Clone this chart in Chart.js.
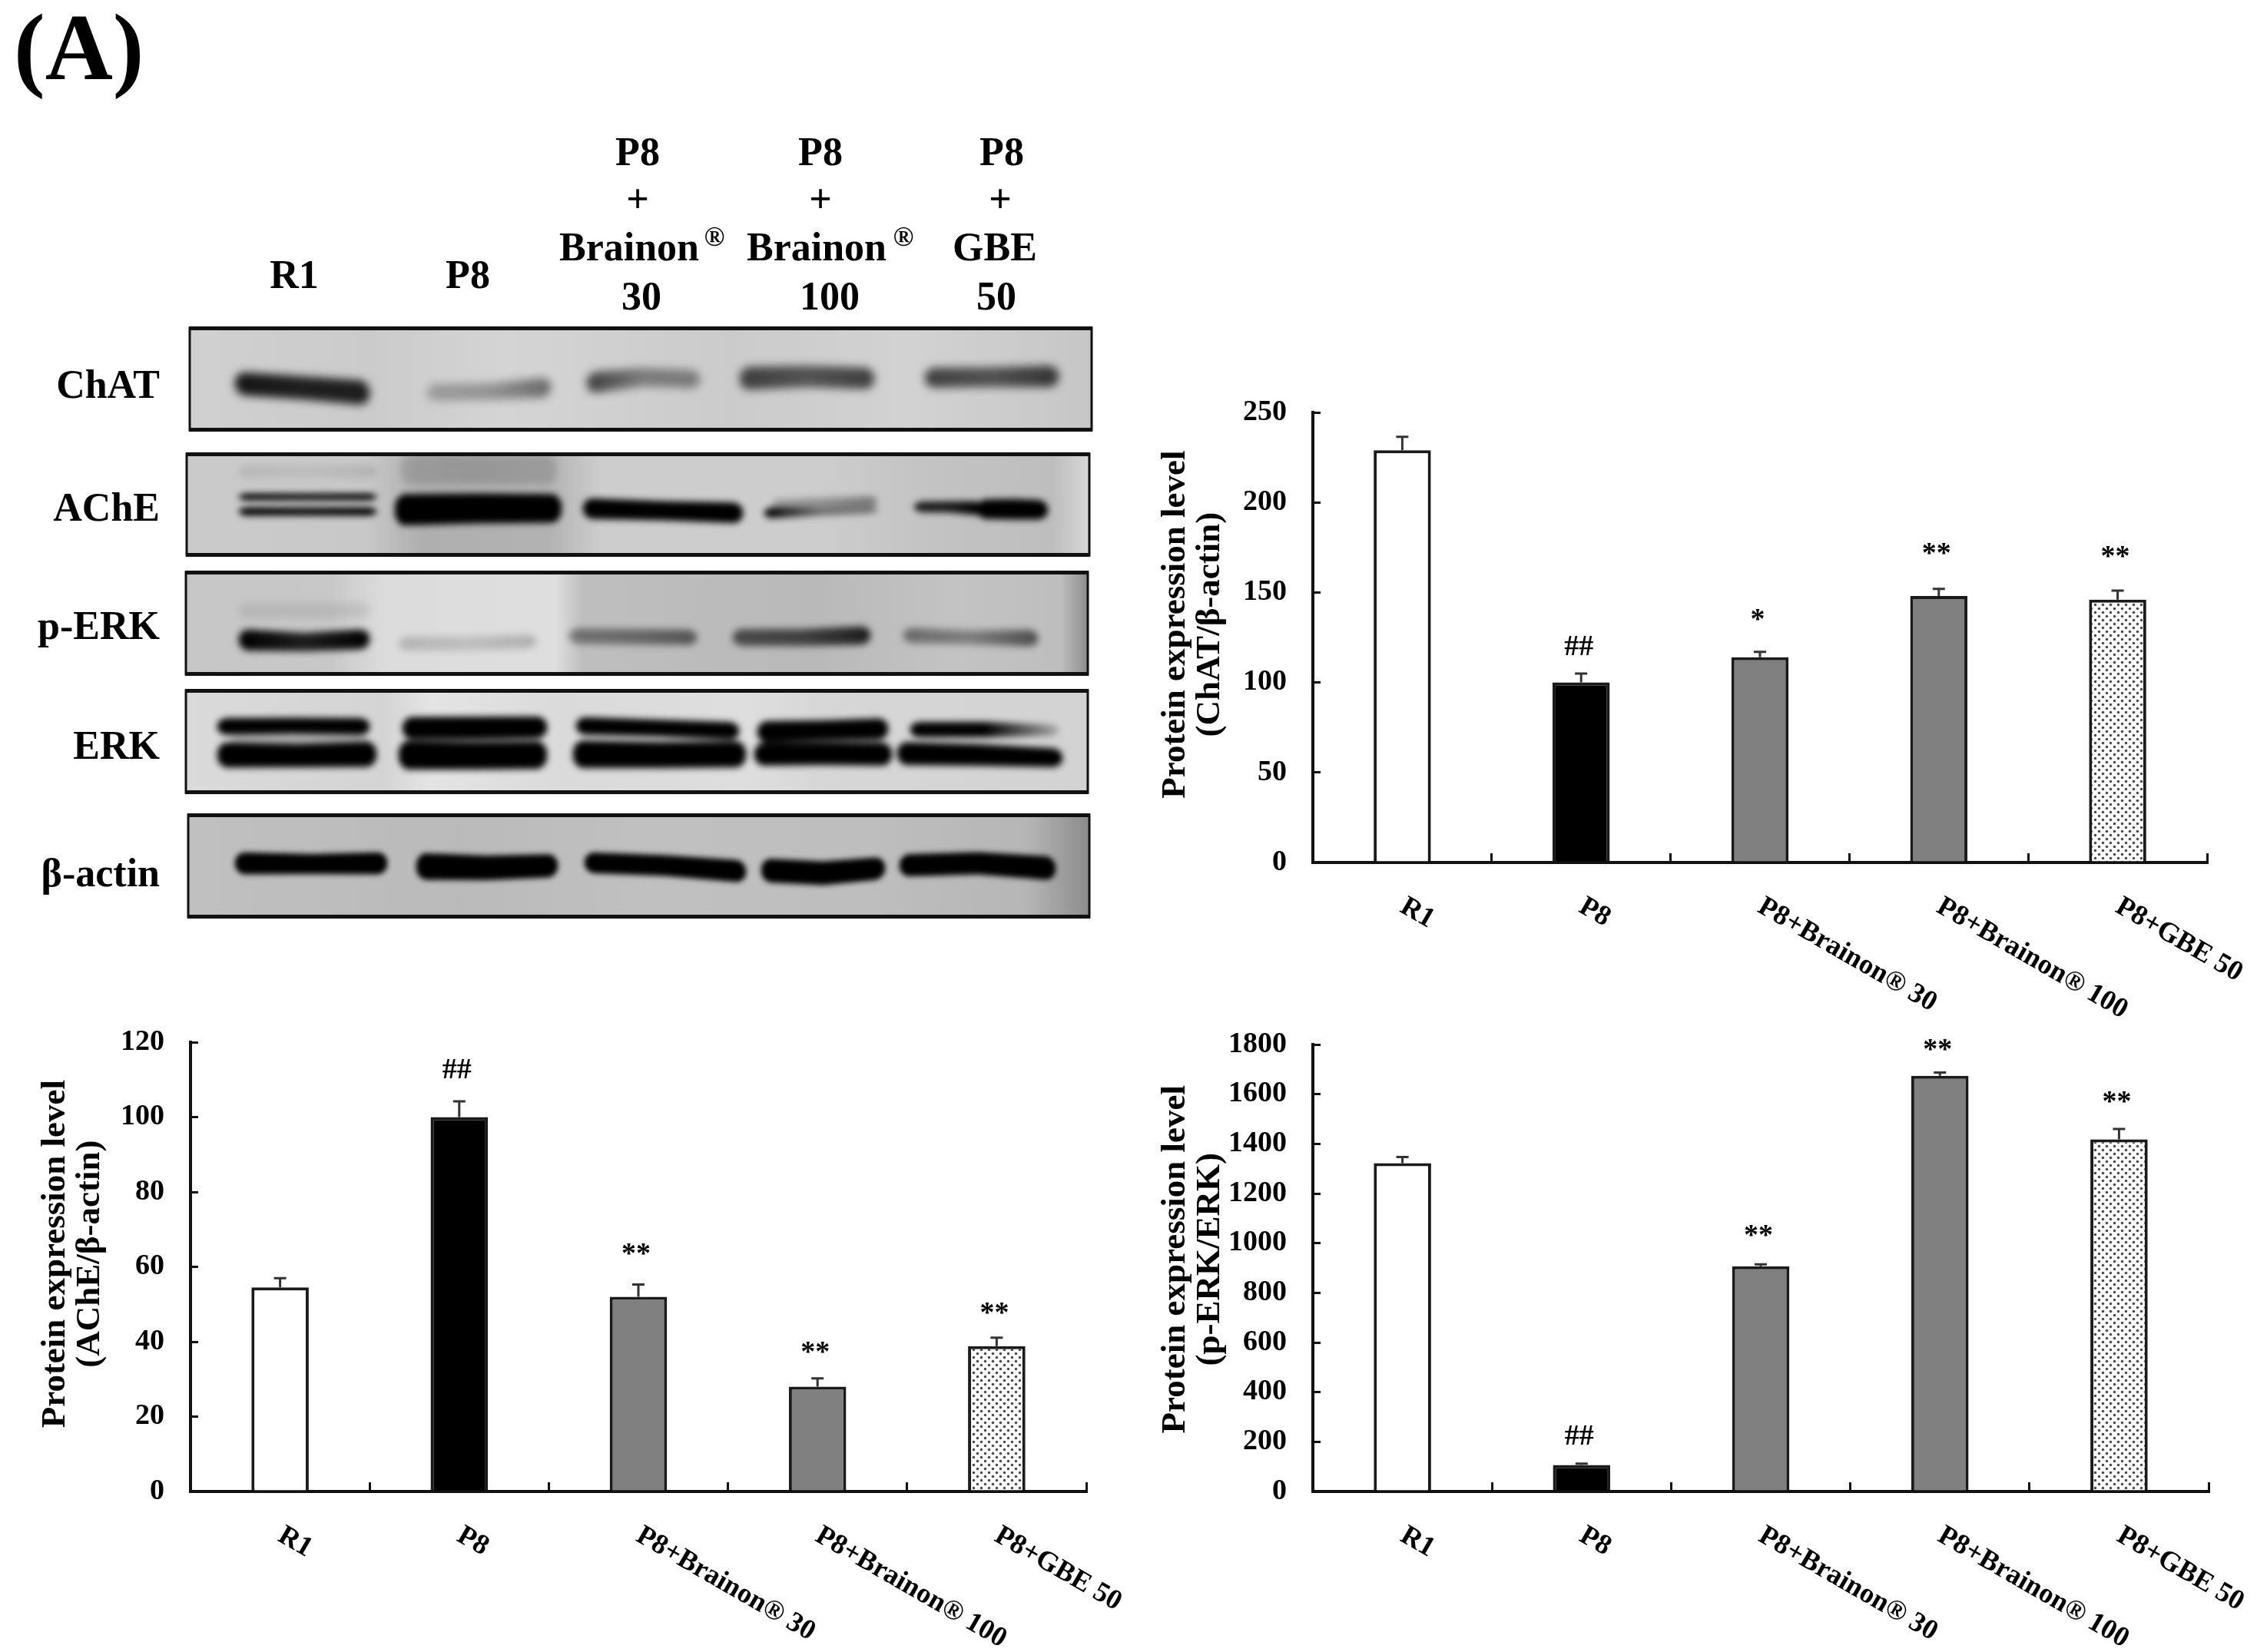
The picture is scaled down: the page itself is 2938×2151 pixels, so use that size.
<!DOCTYPE html>
<html>
<head>
<meta charset="utf-8">
<script src="https://cdn.jsdelivr.net/npm/chart.js@4"></script>
<style>
  html, body { margin: 0; background: #fff; }
  body { position: relative; width: 2938px; height: 2151px; overflow: hidden; }
  canvas { position: absolute; }
</style>
</head>
<body>
<canvas id="blots" width="1500" height="1320" style="left:0;top:0"></canvas>
<canvas id="chatChart" width="1438" height="880" style="left:1500px;top:480px"></canvas>
<canvas id="acheChart" width="1490" height="831" style="left:0;top:1320px"></canvas>
<canvas id="erkChart" width="1438" height="831" style="left:1500px;top:1320px"></canvas>
<script>
const groups = ['R1', 'P8', 'P8+Brainon® 30', 'P8+Brainon® 100', 'P8+GBE 50'];

const chatValues = [229, 100, 114, 148, 146];
const chatErrors = [7.5, 5, 3, 4, 5];
const chatMarks = ['', '##', '*', '**', '**'];
const chatMarkLevels = [null, 120.7, 137.5, 174.3, 172.5];
const chatTicks = [0, 50, 100, 150, 200, 250];

const acheValues = [54.5, 100, 52, 28, 38.8];
const acheErrors = [2.5, 4.2, 3.3, 2.2, 2.3];
const acheMarks = ['', '##', '**', '**', '**'];
const acheMarkLevels = [null, 113, 64.7, 38.4, 49];
const acheTicks = [0, 20, 40, 60, 80, 100, 120];

const erkValues = [1322, 107, 907, 1674, 1418];
const erkErrors = [25, 5, 8, 13, 42];
const erkMarks = ['', '##', '**', '**', '**'];
const erkMarkLevels = [null, 226, 1050, 1798, 1588];
const erkTicks = [0, 200, 400, 600, 800, 1000, 1200, 1400, 1600, 1800];

const SERIF = '"Liberation Serif", "Times New Roman", serif';

// stipple used for the GBE bar
function stipple() {
  const tile = document.createElement('canvas');
  tile.width = 10;
  tile.height = 10;
  const c = tile.getContext('2d');
  c.fillStyle = '#fff';
  c.fillRect(0, 0, 10, 10);
  c.fillStyle = '#444';
  [[2.5, 2.5], [7.5, 7.5]].forEach(([x, y]) => {
    c.beginPath();
    c.arc(x, y, 1.7, 0, Math.PI * 2);
    c.fill();
  });
  return c.createPattern(tile, 'repeat');
}

const barFills = ['#ffffff', '#000000', '#808080', '#808080', stipple()];

// whiskers and significance marks, placed through the chart's own scales
const extrasPlugin = {
  id: 'extras',
  afterDatasetsDraw(chart, args, opts) {
    const { ctx, scales } = chart;
    const bars = chart.getDatasetMeta(0).data;
    ctx.save();
    bars.forEach((bar, i) => {
      const top = scales.y.getPixelForValue(opts.values[i] + opts.errors[i]);
      ctx.strokeStyle = '#333';
      ctx.lineWidth = 3;
      ctx.beginPath();
      ctx.moveTo(bar.x, bar.y);
      ctx.lineTo(bar.x, top);
      ctx.moveTo(bar.x - 8, top);
      ctx.lineTo(bar.x + 8, top);
      ctx.stroke();

      if (!opts.marks[i]) return;
      const y = scales.y.getPixelForValue(opts.levels[i]);
      ctx.fillStyle = '#000';
      ctx.font = 'bold 38px ' + SERIF;
      ctx.textAlign = 'center';
      ctx.textBaseline = 'alphabetic';
      const m = ctx.measureText(opts.marks[i]);
      ctx.fillText(opts.marks[i], bar.x - 3, y + (m.actualBoundingBoxAscent - m.actualBoundingBoxDescent) / 2);
    });
    ctx.restore();
  }
};

function makeChart(id, cfg) {
  return new Chart(document.getElementById(id), {
    type: 'bar',
    data: {
      labels: groups,
      datasets: [{
        data: cfg.values,
        backgroundColor: barFills,
        borderColor: '#1a1a1a',
        borderWidth: 4,
        barPercentage: 1,
        categoryPercentage: 0.32
      }]
    },
    plugins: [extrasPlugin],
    options: {
      responsive: false,
      animation: false,
      events: [],
      layout: { padding: { top: cfg.padTop, right: cfg.padRight, left: 0, bottom: 0 } },
      plugins: {
        legend: { display: false },
        tooltip: { enabled: false },
        extras: { values: cfg.values, errors: cfg.errors, marks: cfg.marks, levels: cfg.levels }
      },
      scales: {
        x: {
          grid: { drawOnChartArea: false, tickLength: -12, color: '#111', lineWidth: 3 },
          border: { color: '#111', width: 4 },
          ticks: {
            color: '#000',
            font: { family: SERIF, size: 36.5, weight: 'bold' },
            minRotation: -30,
            maxRotation: -30,
            autoSkip: false,
            padding: 48
          },
          // labels hang from their start, going down to the right
          beforeUpdate(scale) { scale._getXAxisLabelAlignment = () => 'left'; },
          afterFit(scale) {
            scale.height = cfg.xHeight;
            scale.paddingLeft = scale.paddingRight = scale.paddingTop = scale.paddingBottom = 0;
          }
        },
        y: {
          min: cfg.ticks[0],
          max: cfg.ticks[cfg.ticks.length - 1],
          afterBuildTicks(scale) { scale.ticks = cfg.ticks.map(v => ({ value: v })); },
          grid: { drawOnChartArea: false, tickLength: -10, color: '#111', lineWidth: 3 },
          border: { color: '#111', width: 4 },
          ticks: {
            color: '#000',
            font: { family: SERIF, size: 38, weight: 'bold' },
            padding: 44,
            callback: v => String(v)
          },
          title: {
            display: true,
            text: cfg.title,
            color: '#000',
            font: { family: SERIF, size: 45, weight: 'bold', lineHeight: 1 },
            padding: { top: cfg.titlePad, bottom: 0 }
          },
          afterFit(scale) {
            scale.width = cfg.yWidth;
            scale.paddingLeft = scale.paddingRight = scale.paddingTop = scale.paddingBottom = 0;
          }
        }
      }
    }
  });
}

makeChart('chatChart', {
  values: chatValues, errors: chatErrors, marks: chatMarks, levels: chatMarkLevels, ticks: chatTicks,
  title: ['\u00a0\u00a0\u00a0Protein expression level', '\u00a0\u00a0\u00a0(ChAT/β-actin)'],
  padTop: 57, padRight: 65, xHeight: 237, yWidth: 209, titlePad: 8
});
makeChart('acheChart', {
  values: acheValues, errors: acheErrors, marks: acheMarks, levels: acheMarkLevels, ticks: acheTicks,
  title: ['\u00a0\u00a0\u00a0Protein expression level', '\u00a0\u00a0\u00a0(AChE/β-actin)'],
  padTop: 37, padRight: 76, xHeight: 209, yWidth: 248, titlePad: 50
});
makeChart('erkChart', {
  values: erkValues, errors: erkErrors, marks: erkMarks, levels: erkMarkLevels, ticks: erkTicks,
  title: ['\u00a0\u00a0Protein expression level', '\u00a0\u00a0(p-ERK/ERK)'],
  padTop: 40, padRight: 63, xHeight: 209, yWidth: 209, titlePad: 8
});

// ---- western blot panels: photographic, so painted by hand rather than charted
// band: x0, x1, y[l,m,r], thickness[l,m,r], alpha[l,m,r]
const panels = [
  { box: [247, 427, 1421, 560], blur: 6, grow: 4,
    bg: [[0, 208], [0.2, 203], [0.35, 212], [0.6, 203], [0.8, 210], [1, 198]],
    bands: [
      [305, 481, [499, 505, 512], [26, 26, 28], [0.9, 0.85, 0.85]],
      [555, 717, [511, 510, 504], [18, 18, 22], [0.25, 0.3, 0.5]],
      [763, 911, [499, 491, 494], [24, 20, 20], [0.7, 0.4, 0.4]],
      [962, 1138, [493, 490, 493], [26, 24, 24], [0.7, 0.6, 0.7]],
      [1203, 1378, [492, 491, 490], [22, 22, 24], [0.7, 0.6, 0.75]]
    ] },
  { box: [243, 591, 1418, 723], blur: 4, grow: 3,
    bg: [[0, 202], [0.2, 200], [0.26, 175], [0.4, 178], [0.46, 205], [0.7, 205], [0.82, 195], [0.96, 190], [1, 215]],
    bands: [
      [310, 490, [647, 647, 647], [6, 6, 6], [1, 0.95, 1]],
      [310, 490, [666, 666, 666], [8, 8, 8], [1, 0.95, 1]],
      [310, 490, [614, 614, 614], [14, 14, 14], [0.08, 0.05, 0.1]],
      [520, 725, [612, 612, 612], [34, 34, 34], [0.12, 0.14, 0.12]],
      [513, 731, [664, 662, 662], [38, 36, 34], [1, 1, 1]],
      [758, 967, [662, 665, 668], [24, 22, 24], [1, 1, 1]],
      [994, 1142, [668, 666, 663], [12, 8, 8], [1, 0.45, 0.4]],
      [1004, 1142, [656, 654, 652], [8, 9, 9], [0.25, 0.3, 0.4]],
      [1189, 1280, [660, 660, 662], [11, 12, 16], [0.85, 0.85, 1]],
      [1270, 1364, [663, 663, 664], [22, 24, 22], [1, 1, 1]]
    ] },
  { box: [242, 745, 1416, 878], blur: 5, grow: 4,
    bg: [[0, 198], [0.16, 200], [0.22, 220], [0.41, 222], [0.44, 190], [0.7, 185], [0.85, 195], [0.97, 190], [1, 140]],
    bands: [
      [310, 481, [833, 836, 832], [24, 20, 22], [1, 0.85, 1]],
      [310, 481, [795, 795, 795], [16, 16, 16], [0.08, 0.08, 0.08]],
      [518, 698, [838, 838, 835], [14, 14, 14], [0.18, 0.14, 0.2]],
      [740, 907, [828, 829, 830], [16, 16, 16], [0.4, 0.45, 0.55]],
      [953, 1133, [830, 830, 827], [18, 18, 20], [0.6, 0.65, 0.85]],
      [1175, 1351, [827, 830, 831], [16, 14, 18], [0.45, 0.35, 0.6]]
    ] },
  { box: [242, 899, 1416, 1032], blur: 4, grow: 6,
    bg: [[0, 218], [0.22, 212], [0.27, 228], [0.42, 218], [0.62, 222], [0.7, 215], [1, 210]],
    bands: [
      [282, 481, [946, 945, 946], [16, 15, 16], [1, 1, 1]],
      [282, 490, [983, 984, 982], [27, 24, 27], [1, 1, 1]],
      [300, 480, [964, 964, 964], [6, 6, 6], [0.2, 0.2, 0.2]],
      [523, 712, [948, 948, 947], [23, 24, 22], [1, 1, 1]],
      [518, 712, [983, 984, 983], [32, 30, 30], [1, 1, 1]],
      [749, 962, [945, 948, 952], [17, 16, 17], [1, 1, 1]],
      [745, 971, [982, 983, 982], [30, 28, 28], [1, 1, 1]],
      [985, 1156, [953, 951, 949], [22, 20, 22], [1, 1, 1]],
      [981, 1161, [982, 981, 982], [24, 24, 24], [1, 1, 1]],
      [1184, 1378, [950, 950, 951], [14, 14, 8], [1, 1, 0.2]],
      [1167, 1383, [981, 983, 987], [24, 22, 18], [1, 1, 1]]
    ] },
  { box: [245, 1061, 1418, 1194], blur: 3.5, grow: 5,
    bg: [[0, 192], [0.3, 186], [0.5, 192], [0.75, 190], [0.93, 182], [1, 140]],
    bands: [
      [305, 504, [1124, 1125, 1124], [24, 21, 24], [1, 1, 1]],
      [541, 726, [1128, 1130, 1127], [30, 27, 25], [1, 1, 1]],
      [760, 971, [1123, 1127, 1135], [22, 22, 24], [1, 1, 1]],
      [990, 1152, [1133, 1137, 1130], [26, 26, 24], [1, 1, 1]],
      [1170, 1374, [1127, 1124, 1131], [24, 24, 26], [1, 1, 1]]
    ] }
];

function lerp3(v, t) {
  return t < 0.5 ? v[0] + (v[1] - v[0]) * t * 2 : v[1] + (v[2] - v[1]) * (t - 0.5) * 2;
}

function drawPanel(ctx, p) {
  const [x0, y0, x1, y1] = p.box;
  const w = x1 - x0, h = y1 - y0;
  const grad = ctx.createLinearGradient(x0, 0, x1, 0);
  p.bg.forEach(([s, g]) => grad.addColorStop(s, `rgb(${g},${g},${g})`));
  ctx.fillStyle = grad;
  ctx.fillRect(x0, y0, w, h);

  const off = document.createElement('canvas');
  off.width = w;
  off.height = h;
  const o = off.getContext('2d');
  p.bands.forEach(([a, b, ys, ths, alphas]) => {
    for (let x = a; x < b; x++) {
      const t = (x - a) / (b - a);
      const edge = Math.min(t, 1 - t) * (b - a);
      const round = edge < 14 ? Math.sqrt(1 - Math.pow(1 - edge / 14, 2)) : 1;
      const th = (lerp3(ths, t) + p.grow) * round;
      o.fillStyle = `rgba(0,0,0,${lerp3(alphas, t)})`;
      o.fillRect(x - x0, lerp3(ys, t) - y0 - th / 2, 1, th);
    }
  });

  ctx.save();
  ctx.beginPath();
  ctx.rect(x0, y0, w, h);
  ctx.clip();
  ctx.filter = `blur(${p.blur}px)`;
  ctx.drawImage(off, x0, y0);
  ctx.restore();

  ctx.strokeStyle = '#111';
  ctx.lineWidth = 3;
  ctx.strokeRect(x0, y0, w, h);
  ctx.fillStyle = '#111';
  ctx.fillRect(x0 - 1, y0 - 2, w + 2, 5);
  ctx.fillRect(x0 - 1, y1 - 3, w + 2, 5);
}

// lane and row captions [text, x, baseline]
const laneCaptions = [
  ['R1', 383, 375], ['P8', 609, 375],
  ['P8', 830, 215], ['+', 830, 276], ['Brainon', 819, 339], ['30', 835, 403],
  ['P8', 1068, 215], ['+', 1068, 276], ['Brainon', 1063, 339], ['100', 1080, 403],
  ['P8', 1304, 215], ['+', 1302, 276], ['GBE', 1295, 339], ['50', 1297, 403]
];
const regMarks = [[930, 320], [1176, 320]];
const rowCaptions = [['ChAT', 518], ['AChE', 678], ['p-ERK', 832], ['ERK', 988], ['β-actin', 1154]];

const bctx = document.getElementById('blots').getContext('2d');
panels.forEach(p => drawPanel(bctx, p));

bctx.fillStyle = '#000';
bctx.textBaseline = 'alphabetic';
bctx.font = 'bold 122px ' + SERIF;
bctx.textAlign = 'left';
bctx.fillText('(A)', 18, 103);

bctx.font = 'bold 52px ' + SERIF;
bctx.textAlign = 'center';
laneCaptions.forEach(([t, x, y]) => bctx.fillText(t, x, y));
rowCaptions.forEach(([t, y]) => {
  bctx.textAlign = 'right';
  bctx.fillText(t, 208, y);
});
bctx.font = 'bold 36px ' + SERIF;
bctx.textAlign = 'center';
regMarks.forEach(([x, y]) => bctx.fillText('®', x, y));
</script>
</body>
</html>
